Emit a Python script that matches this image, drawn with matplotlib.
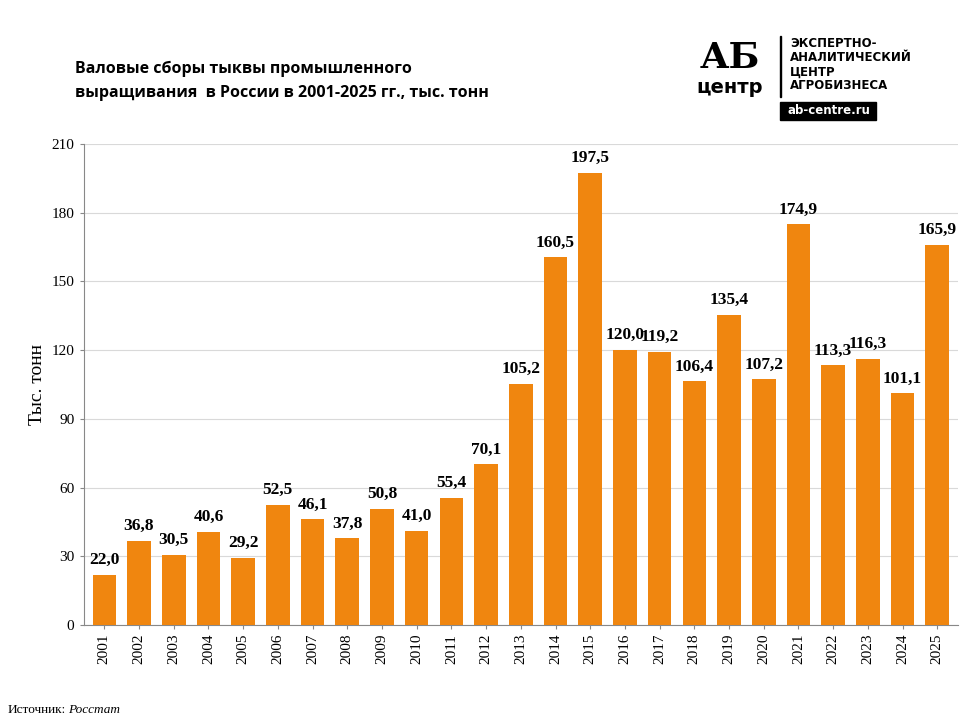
import matplotlib
matplotlib.use("Agg")
import matplotlib.pyplot as plt
from matplotlib.patches import Rectangle

years = [str(y) for y in range(2001, 2026)]
values = [22.0, 36.8, 30.5, 40.6, 29.2, 52.5, 46.1, 37.8, 50.8, 41.0, 55.4, 70.1, 105.2,
          160.5, 197.5, 120.0, 119.2, 106.4, 135.4, 107.2, 174.9, 113.3, 116.3, 101.1, 165.9]
yticks = [0, 30, 60, 90, 120, 150, 180, 210]

serif = "Liberation Serif"
fig = plt.figure(figsize=(9.6, 7.2), dpi=100)
ax = fig.add_axes([0.087, 0.132, 0.911, 0.668])
x = range(len(values))
ax.bar(x, values, width=0.68, color="#F0860F", zorder=3)
ax.set_xlim(-0.6, len(values) - 0.4)
ax.set_ylim(0, 210)
ax.set_yticks(yticks)
ax.set_yticklabels([str(t) for t in yticks], fontfamily=serif, fontsize=11)
ax.set_xticks(list(x))
ax.set_xticklabels(years, rotation=90, fontfamily=serif, fontsize=11)
ax.grid(axis="y", color="#D9D9D9", lw=0.8, zorder=0)
for s in ["top", "right"]:
    ax.spines[s].set_visible(False)
ax.spines["left"].set_color("#888888")
ax.spines["bottom"].set_color("#888888")
ax.tick_params(length=3, color="#888888")
ax.set_ylabel("Тыс. тонн", fontfamily=serif, fontsize=14)
for i, v in enumerate(values):
    ax.text(i, v + 3, f"{v:.1f}".replace(".", ","), ha="center", va="bottom",
            fontfamily=serif, fontweight="bold", fontsize=12.5)

fig.text(0.078, 0.915, "Валовые сборы тыквы промышленного\nвыращивания  в России в 2001-2025 гг., тыс. тонн",
         fontfamily="Open Sans", fontweight="bold", fontsize=11.5, va="top", linespacing=1.6)
fig.text(0.008, 0.01, "Источник:", fontfamily=serif, fontsize=9.5)
fig.text(0.071, 0.01, "Росстат", fontfamily=serif, fontsize=9.5, style="italic")

# logo
fig.text(0.76, 0.92, "АБ", fontfamily="DejaVu Serif", fontweight="bold", fontsize=26, va="center", ha="center")
fig.text(0.76, 0.878, "центр", fontfamily="DejaVu Sans", fontweight="bold", fontsize=14, va="center", ha="center")
fig.add_artist(Rectangle((0.812, 0.865), 0.002, 0.085, transform=fig.transFigure, color="black"))
fig.text(0.823, 0.948, "ЭКСПЕРТНО-\nАНАЛИТИЧЕСКИЙ\nЦЕНТР\nАГРОБИЗНЕСА", fontfamily="DejaVu Sans",
         fontweight="bold", fontsize=8.5, va="top", linespacing=1.1)
fig.add_artist(Rectangle((0.813, 0.834), 0.1, 0.024, transform=fig.transFigure, color="black"))
fig.text(0.863, 0.846, "ab-centre.ru", color="white", fontfamily="DejaVu Sans", fontweight="bold",
         fontsize=8.5, ha="center", va="center")

fig.savefig("out.png", dpi=100)
